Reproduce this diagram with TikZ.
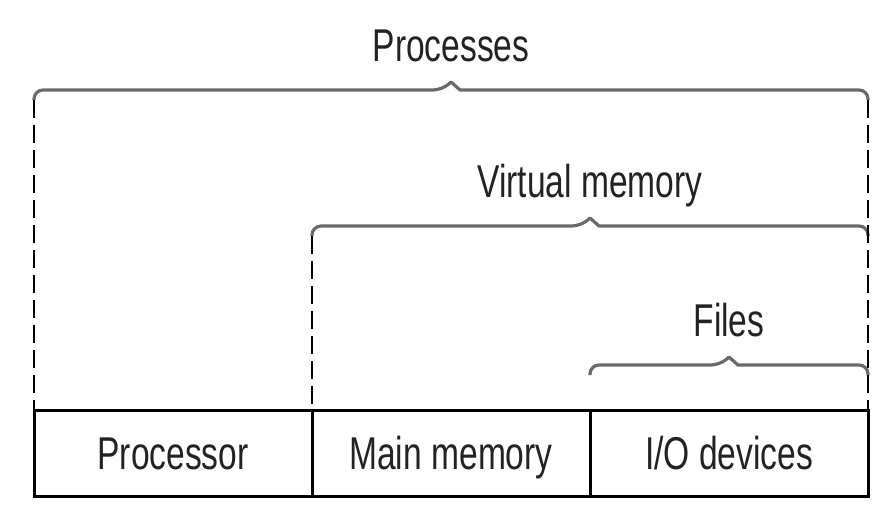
\documentclass[tikz,border=0pt]{standalone}
\usepackage{fontspec}
\setmainfont{Liberation Sans}[FakeStretch=0.73]
\usetikzlibrary{positioning,calc}

\definecolor{txtgray}{HTML}{222222}
\definecolor{brcgray}{HTML}{6A6A6A}

\begin{document}
\begin{tikzpicture}[
    x=1pt,y=-1pt,
    font=\fontsize{46}{50}\selectfont,
    cell/.style={draw,line width=3pt,minimum width=278pt,minimum height=86pt,
                 inner sep=0pt,outer sep=0pt,text height=32pt,text depth=0pt,text=txtgray},
    brc/.style={draw=brcgray,line width=3.2pt,line join=round},
    guide/.style={line width=2.6pt,dash pattern=on 18pt off 7pt},
    lbl/.style={anchor=base,inner sep=0pt,text=txtgray},
]
\useasboundingbox (0,0) rectangle (882,515);

% ---- the three units (bottom row) ----
\node[cell] (proc) at (173,453) {Processor};
\node[cell,right=0pt of proc] (mem) {Main memory};
\node[cell,right=0pt of mem]  (io)  {I/O devices};

% ---- braces with their labels ----
\foreach \from/\ht/\word [count=\i] in {proc/90/Processes, mem/226/Virtual memory, io/365/Files} {
  \coordinate (l\i) at (\from.north west |- 0,\ht);
  \coordinate (r\i) at (io.north east |- 0,\ht);
  \coordinate (t\i) at ($(l\i)!0.5!(r\i)$);
  \draw[brc] ($(l\i)+(0,10)$) [rounded corners=9pt] |- ($(t\i)+(-9,0)$)
        [sharp corners] -- ($(t\i)+(0,-8)$) -- ($(t\i)+(9,0)$)
        [rounded corners=9pt] -| ($(r\i)+(0,10)$);
  \node[lbl] (lab\i) at ($(t\i)+(0,-29)$) {\word};
}

% ---- dashed extents down to the units ----
\draw[guide] ($(l1)+(0,10)$) -- (proc.north west);
\draw[guide] ($(l2)+(0,10)$) -- (mem.north west);
\draw[guide] ($(r1)+(0,10)$) -- (io.north east);

\end{tikzpicture}
\end{document}
